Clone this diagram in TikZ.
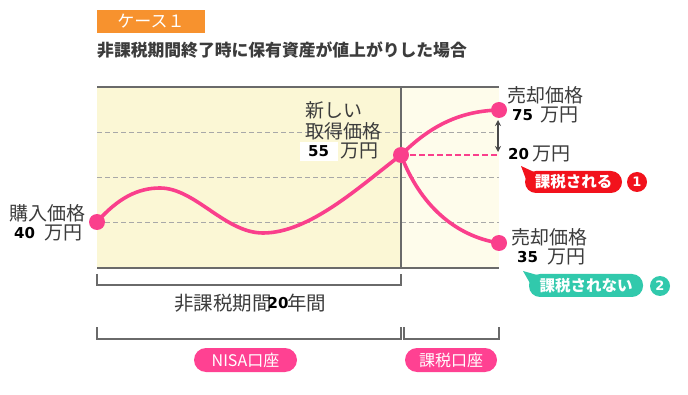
\documentclass[tikz,border=0pt]{standalone}
\usepackage{fontspec}
\setmainfont{Noto Sans CJK JP}
\newfontfamily\jp{Noto Sans CJK JP}
\newfontfamily\numf{DejaVu Sans}
\usetikzlibrary{arrows.meta}
\definecolor{pinkc}{HTML}{FA3F8C}
\definecolor{pillc}{HTML}{FF4192}
\definecolor{orangec}{HTML}{F7922E}
\definecolor{redc}{HTML}{F2121C}
\definecolor{tealc}{HTML}{31C9AC}
\definecolor{leftbg}{HTML}{FBF7D5}
\definecolor{rightbg}{HTML}{FEFCEB}
\definecolor{txtgray}{HTML}{3C3C3C}
\definecolor{gridc}{HTML}{A8A8A8}
\definecolor{framec}{HTML}{6A6A6A}
\tikzset{
  lbl/.style={inner sep=0pt, text=txtgray, font=\jp\fontsize{19}{21}\selectfont},
  num/.style={inner sep=0pt, text=black, font=\numf\bfseries\fontsize{15}{17}\selectfont},
  grid/.style={gridc, dash pattern=on 5pt off 3pt, line width=0.9pt},
  curve/.style={pinkc, line width=3.6pt},
  dotp/.style={circle, fill=pinkc, minimum size=16pt, inner sep=0pt},
  frame/.style={framec, line width=1.3pt},
  brk/.style={framec, line width=1.4pt},
  pill/.style={rounded corners=11pt, inner sep=0pt},
  pilltxt/.style={inner sep=0pt, text=white, font=\jp\bfseries\fontsize{15.5}{17}\selectfont},
  badge/.style={circle, inner sep=0pt, minimum size=20pt, text=white, font=\numf\bfseries\fontsize{13}{15}\selectfont}
}
\begin{document}
\begin{tikzpicture}[x=1pt,y=-1pt]
\useasboundingbox (0,0) rectangle (688,395);
\fill[white] (0,0) rectangle (688,395);
% header
\fill[orangec] (97,10) rectangle (205,33);
\node[pilltxt, font=\jp\fontsize{17}{19}\selectfont] (case) at (151,21.5) {ケース１};
\node[anchor=west, inner sep=0pt, text=txtgray, font=\jp\bfseries\fontsize{16.8}{18}\selectfont] (title) at (97,50) {非課税期間終了時に保有資産が値上がりした場合};
% panels
\fill[leftbg] (97,87) rectangle (401,268);
\fill[rightbg] (401,87) rectangle (499,268);
\foreach \yy in {132,177,222} \draw[grid] (97,\yy) -- (499,\yy);
\draw[frame] (97,87) -- (499,87);
\draw[frame] (97,268) -- (499,268);
\draw[frame] (401,87) -- (401,268);
% points
\coordinate (p0) at (97,222);
\coordinate (p1) at (401,155);
\coordinate (pu) at (499,110);
\coordinate (pd) at (499,243);
\coordinate (pm) at (499,155);
\draw[curve] (p0) .. controls (118,198) and (138,188) .. (160,188)
  .. controls (195,188) and (225,233) .. (263,233)
  .. controls (310,233) and (360,186) .. (p1);
\draw[curve] (p1) .. controls (430,126) and (460,111) .. (pu);
\draw[curve] (p1) .. controls (420,205) and (455,236) .. (pd);
\draw[pinkc, line width=2.2pt, dash pattern=on 6pt off 3pt] (p1) -- (pm);
\node[dotp] (d0) at (p0) {};
\node[dotp] (d1) at (p1) {};
\node[dotp] (du) at (pu) {};
\node[dotp] (dd) at (pd) {};
\coordinate (a1) at (498,120);
\coordinate (a2) at (498,152);
\draw[{Stealth[length=6pt,width=6pt]}-{Stealth[length=6pt,width=6pt]}, framec!70!black, line width=1.1pt] (a1) -- (a2);
% labels left
\node[lbl, anchor=west] (buy) at (9,213) {購入価格};
\node[num, anchor=west] (n40) at (14,233) {40};
\node[lbl, anchor=west] (m40) at (44,233) {万円};
% middle
\node[lbl, anchor=west] (new1) at (305,110) {新しい};
\node[lbl, anchor=west] (new2) at (305,131) {取得価格};
\fill[white] (300,142) rectangle (338,161);
\node[num, anchor=west] (n55) at (308,151) {55};
\node[lbl, anchor=west] (m55) at (340,151) {万円};
% right top
\node[lbl, anchor=west] (sell1) at (507,95) {売却価格};
\node[num, anchor=west] (n75) at (512,115) {75};
\node[lbl, anchor=west] (m75) at (540,115) {万円};
\node[num, anchor=west] (n20) at (508,154) {20};
\node[lbl, anchor=west] (m20) at (532,154) {万円};
% right bottom
\node[lbl, anchor=west] (sell2) at (511,237) {売却価格};
\node[num, anchor=west] (n35) at (517,257) {35};
\node[lbl, anchor=west] (m35) at (547,257) {万円};
% callout 1
\fill[redc] (525,171) [pill] rectangle (622,193);
\fill[redc] (521,166) -- (534,172) -- (527,182) -- cycle;
\node[pilltxt] (c1) at (573.5,182) {課税される};
\node[badge, fill=redc] (b1) at (637,182) {1};
% callout 2
\fill[tealc] (529,274) [pill] rectangle (643,297);
\fill[tealc] (523,271) -- (537,275) -- (531,285) -- cycle;
\node[pilltxt] (c2) at (586,285.5) {課税されない};
\node[badge, fill=tealc] (b2) at (660,286) {2};
% brackets
\draw[brk] (97,274) -- (97,285) -- (401,285) -- (401,274);
\node[lbl, anchor=west, font=\jp\fontsize{19.5}{21}\selectfont] (per1) at (174,303) {非課税期間};
\node[lbl, anchor=west, font=\jp\fontsize{19.5}{21}\selectfont] (per2) at (287,303) {年間};
\node[num, anchor=center] (n20y) at (278,303) {20};
\draw[brk] (97,327) -- (97,339) -- (401,339) -- (401,327);
\draw[brk] (404,327) -- (404,339) -- (499,339) -- (499,327);
% pills
\fill[pillc] (194,348) [rounded corners=12pt] rectangle (297,372);
\node[pilltxt, font=\jp\fontsize{16}{18}\selectfont] (nisa) at (245.5,360) {NISA口座};
\fill[pillc] (405,348) [rounded corners=12pt] rectangle (497,372);
\node[pilltxt, font=\jp\fontsize{16}{18}\selectfont] (tax) at (451,360) {課税口座};
\end{tikzpicture}
\end{document}
